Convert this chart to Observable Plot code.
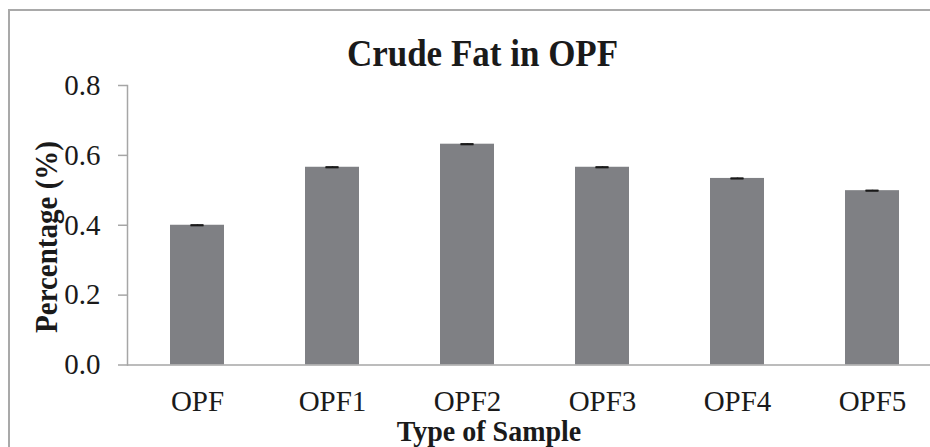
<!DOCTYPE html>
<html><head><meta charset="utf-8">
<script src="https://cdn.jsdelivr.net/npm/d3@7"></script>
<script src="https://cdn.jsdelivr.net/npm/@observablehq/plot@0.6"></script>
<style>
html,body{margin:0;padding:0;background:#fff;overflow:hidden;width:930px;height:447px}
#wrap{position:relative;width:930px;height:447px;overflow:hidden;font-family:"Liberation Serif","Times New Roman",serif;color:#1a1a1a}
#frame{position:absolute;left:8px;top:9px;width:1000px;height:1000px;border-left:2px solid #a9a9a9;border-top:2px solid #a9a9a9}
#chart{position:absolute;left:0;top:0;width:942px;height:447px}
.t{position:absolute;white-space:nowrap;line-height:1;font-weight:bold}
#title{font-size:35px;left:482.5px;top:35.5px;transform:translateX(-50%) scaleY(1.06)}
#xtitle{font-size:28px;left:489px;top:416.5px;transform:translateX(-50%) scaleY(1.06)}
#ytitle{font-size:29px;left:47px;top:237px;transform:translate(-50%,-50%) rotate(-90deg) scaleY(1.06)}
</style></head><body>
<div id="wrap"><div id="frame"></div><div id="chart"></div>
<div class="t" id="title">Crude Fat in OPF</div>
<div class="t" id="xtitle">Type of Sample</div>
<div class="t" id="ytitle">Percentage (%)</div>
</div>
<script>
const categories = ["OPF", "OPF1", "OPF2", "OPF3", "OPF4", "OPF5"];
const values = [0.400, 0.566, 0.632, 0.566, 0.534, 0.499];
const errors = [0.001, 0.001, 0.001, 0.001, 0.001, 0.001];
const yTicks = [0, 0.2, 0.4, 0.6, 0.8];

const data = categories.map((c, i) => ({cat: c, val: values[i], err: errors[i]}));

const chart = Plot.plot({
  width: 942,
  height: 447,
  marginLeft: 127,
  marginRight: 0,
  marginTop: 85,
  marginBottom: 82.5,
  style: {fontFamily: "'Liberation Serif','Times New Roman',serif", background: "transparent", color: "#1a1a1a"},
  x: {domain: categories, paddingInner: 0.6, paddingOuter: 0.3, align: 0.5, axis: null},
  y: {domain: [0, 0.8], axis: null},
  marks: [
    Plot.barY(data, {x: "cat", y: "val", fill: "#7f8084"}),
    Plot.ruleX(data, {x: "cat", y1: d => d.val - d.err, y2: d => d.val + d.err, stroke: "#1a1a1a", strokeWidth: 1.5}),
    Plot.tickY(data, {x: "cat", y: d => d.val + d.err, insetLeft: 20.5, insetRight: 20.5, stroke: "#1a1a1a", strokeWidth: 1.5}),
    Plot.tickY(data, {x: "cat", y: d => d.val - d.err, insetLeft: 20.5, insetRight: 20.5, stroke: "#1a1a1a", strokeWidth: 1.5}),
    Plot.ruleY([0], {stroke: "#a6a6a6", strokeWidth: 1.5}),
    Plot.frame({anchor: "left", stroke: "#a6a6a6", strokeWidth: 1.5}),
    Plot.axisY({ticks: yTicks, tickFormat: d => d.toFixed(1), tickSize: 9, tickPadding: 18, fontSize: 29, stroke: "#a6a6a6", strokeWidth: 1.5, fill: "#1a1a1a", label: null}),
    Plot.axisX({tickSize: 0, tickPadding: 25, fontSize: 29, fill: "#1a1a1a", label: null})
  ]
});
document.getElementById("chart").appendChild(chart);
</script>
</body></html>
